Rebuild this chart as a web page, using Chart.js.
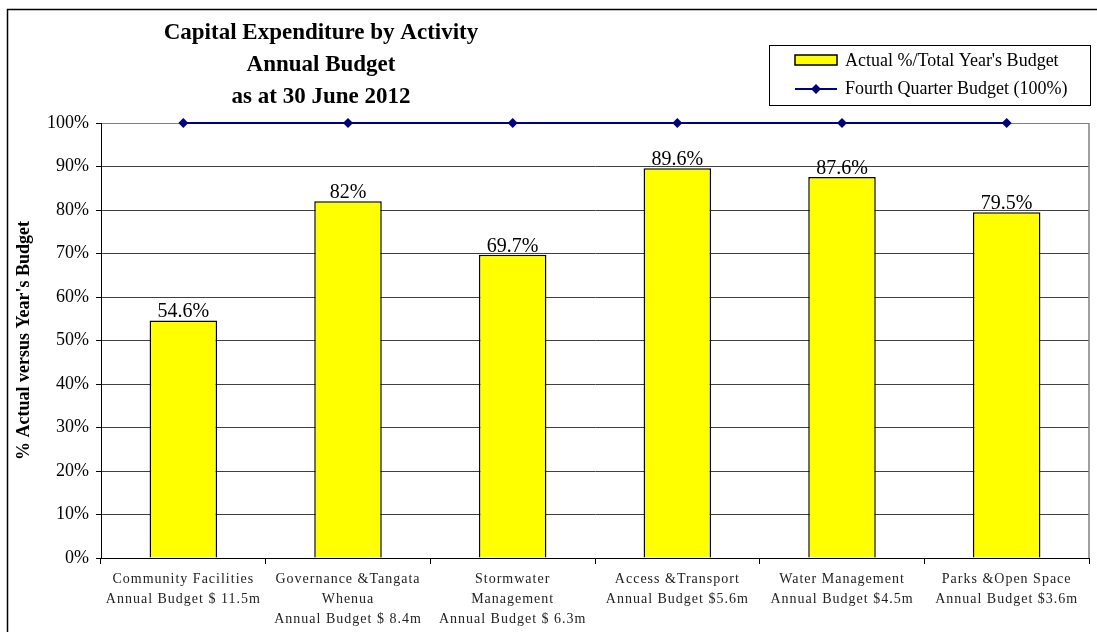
<!DOCTYPE html>
<html>
<head>
<meta charset="utf-8">
<script src="https://cdn.jsdelivr.net/npm/chart.js@4.4.0/dist/chart.umd.min.js"></script>
<style>
  html, body { margin: 0; padding: 0; background: #fff; }
  #wrap { width: 1097px; height: 632px; }
</style>
</head>
<body>
<div id="wrap"><canvas id="chart" width="1097" height="632"></canvas></div>
<script>
// chart values
var categories = [
  ['Community Facilities', 'Annual Budget $ 11.5m'],
  ['Governance &Tangata', 'Whenua', 'Annual Budget $ 8.4m'],
  ['Stormwater', 'Management', 'Annual Budget $ 6.3m'],
  ['Access &Transport', 'Annual Budget $5.6m'],
  ['Water Management', 'Annual Budget $4.5m'],
  ['Parks &Open Space', 'Annual Budget $3.6m']
];
var actualPct = [54.6, 82, 69.7, 89.6, 87.6, 79.5];
var fourthQuarter = [100, 100, 100, 100, 100, 100];
var titleLines = ['Capital Expenditure by Activity', 'Annual Budget', 'as at 30 June 2012'];

var SERIF = "'Liberation Serif', 'Times New Roman', serif";
Chart.defaults.font.family = SERIF;
Chart.defaults.color = '#000';

// frame, title, legend and bar value labels
var decorations = {
  id: 'decorations',
  afterDatasetsDraw: function (chart) {
    var ctx = chart.ctx;
    var meta = chart.getDatasetMeta(0);
    ctx.save();
    ctx.letterSpacing = '0px';
    ctx.font = '20px ' + SERIF;
    ctx.fillStyle = '#000';
    ctx.textAlign = 'center';
    ctx.textBaseline = 'alphabetic';
    meta.data.forEach(function (bar, i) {
      ctx.fillText(actualPct[i] + '%', bar.x, bar.y - 3);
    });
    ctx.restore();
    // x tick labels are drawn next (ticks.z = 1), spaced out like the original
    ctx.letterSpacing = '1px';
  },
  afterDraw: function (chart) {
    var ctx = chart.ctx;
    var area = chart.chartArea;
    ctx.letterSpacing = '0px';
    ctx.save();
    // outer frame
    ctx.strokeStyle = '#000';
    ctx.lineWidth = 1.5;
    ctx.strokeRect(7.5, 9.5, 1200, 800);
    // plot area right edge
    ctx.strokeStyle = '#808080';
    ctx.lineWidth = 1.5;
    ctx.beginPath();
    ctx.moveTo(area.right, area.top);
    ctx.lineTo(area.right, area.bottom);
    ctx.stroke();
    // title
    ctx.fillStyle = '#000';
    ctx.font = 'bold 23px ' + SERIF;
    ctx.textAlign = 'center';
    ctx.textBaseline = 'middle';
    titleLines.forEach(function (t, i) {
      ctx.fillText(t, 321, 33 + i * 32);
    });
    // legend box
    ctx.fillStyle = '#fff';
    ctx.fillRect(769.5, 45.5, 321, 60);
    ctx.strokeStyle = '#000';
    ctx.lineWidth = 1;
    ctx.strokeRect(769.5, 45.5, 321, 60);
    var ds = chart.data.datasets;
    // bar entry
    ctx.fillStyle = ds[0].backgroundColor;
    ctx.fillRect(795, 55, 42, 10);
    ctx.lineWidth = 1.5;
    ctx.strokeRect(795, 55, 42, 10);
    // line entry
    ctx.strokeStyle = ds[1].borderColor;
    ctx.lineWidth = 2;
    ctx.beginPath();
    ctx.moveTo(795, 89);
    ctx.lineTo(837, 89);
    ctx.stroke();
    ctx.fillStyle = ds[1].borderColor;
    ctx.beginPath();
    ctx.moveTo(816, 84);
    ctx.lineTo(821, 89);
    ctx.lineTo(816, 94);
    ctx.lineTo(811, 89);
    ctx.closePath();
    ctx.fill();
    ctx.fillStyle = '#000';
    ctx.font = '18px ' + SERIF;
    ctx.textAlign = 'left';
    ctx.textBaseline = 'middle';
    ctx.fillText(ds[0].label, 845, 61);
    ctx.fillText(ds[1].label, 845, 89);
    ctx.restore();
  }
};

var chart = new Chart(document.getElementById('chart'), {
  type: 'bar',
  data: {
    labels: categories,
    datasets: [{
      label: "Actual %/Total Year's Budget",
      data: actualPct,
      backgroundColor: '#FFFF00',
      borderColor: '#000',
      borderWidth: 1.5,
      categoryPercentage: 1,
      barPercentage: 0.41,
      order: 2
    }, {
      type: 'line',
      label: 'Fourth Quarter Budget (100%)',
      data: fourthQuarter,
      borderColor: '#000080',
      backgroundColor: '#000080',
      borderWidth: 2,
      pointStyle: 'rectRot',
      pointRadius: 5,
      pointBorderWidth: 0,
      clip: false,
      order: 1
    }]
  },
  options: {
    responsive: false,
    animation: false,
    layout: { padding: { top: 123, right: 8, bottom: 0, left: 0 } },
    plugins: {
      legend: { display: false },
      tooltip: { enabled: false }
    },
    scales: {
      x: {
        grid: { drawOnChartArea: false, tickLength: 6, tickColor: '#000' },
        border: { color: '#000', width: 1 },
        ticks: {
          z: 1,
          color: '#222',
          font: { size: 14, lineHeight: 1.45 },
          padding: 5,
          maxRotation: 0,
          autoSkip: false
        },
        afterFit: function (scale) { scale.height = 74; }
      },
      y: {
        min: 0,
        max: 100,
        grid: {
          color: function (c) { return c.tick && c.tick.value === 100 ? '#808080' : '#404040'; },
          tickColor: '#000',
          tickLength: 5
        },
        border: { color: '#000', width: 1 },
        ticks: {
          stepSize: 10,
          padding: 7,
          font: { size: 18 },
          callback: function (v) { return v + '%'; }
        },
        title: {
          display: true,
          text: "% Actual versus Year's Budget",
          font: { size: 18, weight: 'bold' },
          padding: { top: 14, bottom: 0 }
        },
        afterFit: function (scale) { scale.width = 101; }
      }
    }
  },
  plugins: [decorations]
});
</script>
</body>
</html>
